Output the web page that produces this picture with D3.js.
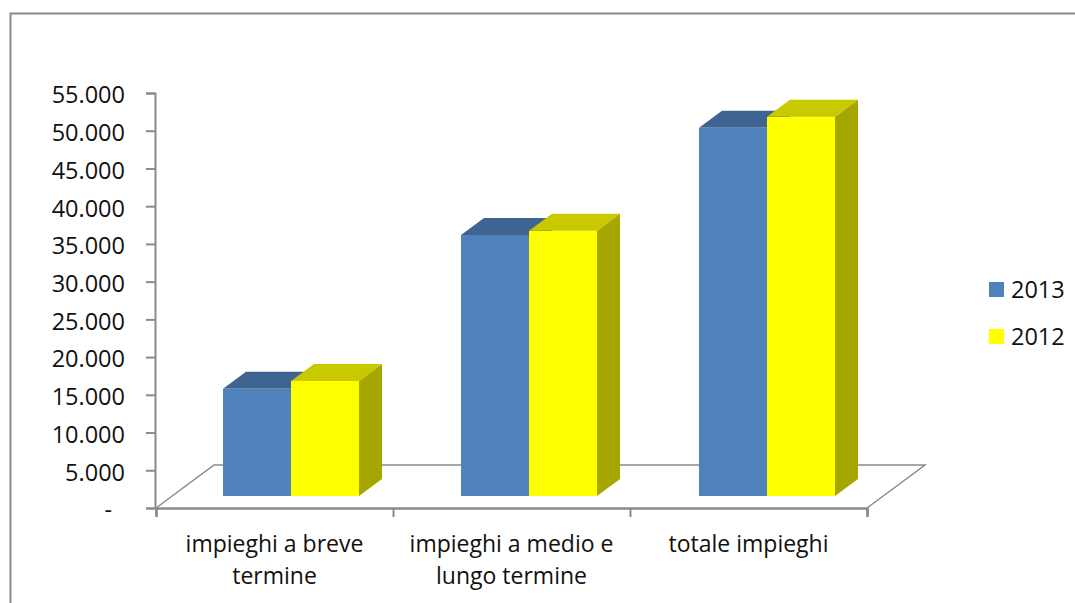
<!DOCTYPE html>
<html>
<head>
<meta charset="utf-8">
<script src="https://cdn.jsdelivr.net/npm/d3@7"></script>
<style>
  html, body { margin: 0; padding: 0; background: #fff; overflow: hidden; }
  text { font-family: "Open Sans", sans-serif; fill: #111; }
</style>
</head>
<body>
<svg id="chart" width="1075" height="603"></svg>
<script>
var categories = ["impieghi a breve termine", "impieghi a medio e lungo termine", "totale impieghi"];
var seriesNames = ["2013", "2012"];
var values2013 = [14200, 34600, 48800];
var values2012 = [15250, 35150, 50250];
var yTicks = [0, 5000, 10000, 15000, 20000, 25000, 30000, 35000, 40000, 45000, 50000, 55000];

var svg = d3.select("#chart");
var grey = "#8a8a8a";
var fontSize = 23.5;
var catFontSize = 23;

var plotLeft = 156, plotRight = 867, plotTop = 93, plotBottom = 508;
var floorDx = 58, floorDy = 43;      // depth of the floor
var barDx = 23, barDy = 17;          // depth of a bar
var barShiftX = 17, barShiftY = 12;  // bars stand inside the floor

var x = d3.scaleBand().domain(categories).range([plotLeft, plotRight]);
var xBars = d3.scaleBand().domain(categories).range([plotLeft - 1, plotRight + 2]);
var xEdges = d3.scaleLinear().domain([0, categories.length]).range([plotLeft, plotRight]);
var y = d3.scaleLinear().domain([0, 55000]).range([plotBottom, plotTop]);
var inner = d3.scaleBand().domain(seriesNames).range([0, 136]);

var colors = {
  "2013": {front: "#4f81bd", top: "#3f6491", side: "#3a5f8c"},
  "2012": {front: "#ffff00", top: "#c9c900", side: "#a6a600"}
};

var itLocale = d3.formatLocale({decimal: ",", thousands: ".", grouping: [3], currency: ["€", ""]});
var fmt = itLocale.format(",d");

// outer frame, only top and left are in the picture
svg.append("path")
  .attr("d", "M10.5,603V13.5H1075")
  .attr("fill", "none")
  .attr("stroke", grey)
  .attr("stroke-width", 2);

// floor
var floor = d3.path();
floor.moveTo(plotLeft, plotBottom);
floor.lineTo(plotLeft + floorDx, plotBottom - floorDy);
floor.lineTo(plotRight + floorDx, plotBottom - floorDy);
floor.lineTo(plotRight, plotBottom);
svg.append("path")
  .attr("d", floor.toString())
  .attr("fill", "none")
  .attr("stroke", grey)
  .attr("stroke-width", 1.5);

// y axis
var yAxis = svg.append("g")
  .attr("transform", "translate(" + (plotLeft - 1) + ",0)")
  .call(d3.axisLeft(y).tickValues(yTicks).tickSize(9).tickPadding(21)
    .tickFormat(function(d) { return d === 0 ? "-" : fmt(d); }));
yAxis.select(".domain").attr("stroke", grey).attr("stroke-width", 2);
yAxis.selectAll(".tick line").attr("stroke", grey).attr("stroke-width", 2);
yAxis.selectAll(".tick text")
  .attr("font-family", null)
  .attr("font-size", fontSize)
  .attr("dy", "0.42em")
  .style("fill", "#111");
yAxis.selectAll(".tick text").filter(function(d) { return d === 0; }).attr("x", -43);

// x axis, ticks sit on the category edges
var xAxis = svg.append("g")
  .attr("transform", "translate(0," + plotBottom + ")")
  .call(d3.axisBottom(xEdges).ticks(categories.length).tickSize(9).tickFormat(""));
xAxis.select(".domain").attr("stroke", grey).attr("stroke-width", 2.5);
xAxis.selectAll(".tick line").attr("stroke", grey).attr("stroke-width", 2);

var xLabels = svg.append("g")
  .attr("transform", "translate(0," + plotBottom + ")")
  .call(d3.axisBottom(x).tickSize(0).tickPadding(0));
xLabels.select(".domain").remove();
xLabels.selectAll(".tick text")
  .attr("font-family", null)
  .attr("font-size", catFontSize)
  .attr("dy", 0)
  .style("fill", "#111")
  .call(wrap, 230);

function wrap(sel, width) {
  sel.each(function() {
    var text = d3.select(this);
    var words = text.text().split(" ");
    var lines = [[]];
    text.text(null);
    var probe = text.append("tspan");
    words.forEach(function(w) {
      var cur = lines[lines.length - 1];
      probe.text(cur.concat(w).join(" "));
      if (probe.node().getComputedTextLength() > width && cur.length) lines.push([w]);
      else cur.push(w);
    });
    probe.remove();
    lines.forEach(function(l, i) {
      text.append("tspan")
        .attr("x", 0)
        .attr("y", 44 + i * 31.5)
        .text(l.join(" "));
    });
  });
}

// bars
var rows = [];
categories.forEach(function(c, i) {
  rows.push({cat: c, name: "2013", value: values2013[i]});
  rows.push({cat: c, name: "2012", value: values2012[i]});
});

var bars = svg.append("g").selectAll("g").data(rows).enter().append("g")
  .attr("shape-rendering", "crispEdges");

function x0(d) { return xBars(d.cat) + xBars.bandwidth() / 2 - 68 + barShiftX + inner(d.name); }
function x1(d) { return x0(d) + inner.bandwidth(); }
function y0() { return y(0) - barShiftY; }
function y1(d) { return y(d.value) - barShiftY; }

bars.append("polygon")
  .attr("points", function(d) {
    return [[x1(d), y1(d)], [x1(d) + barDx, y1(d) - barDy], [x1(d) + barDx, y0() - barDy], [x1(d), y0()]].join(" ");
  })
  .attr("fill", function(d) { return colors[d.name].side; })
  .attr("shape-rendering", "auto");

bars.append("polygon")
  .attr("points", function(d) {
    return [[x0(d), y1(d)], [x0(d) + barDx, y1(d) - barDy], [x1(d) + barDx, y1(d) - barDy], [x1(d), y1(d)]].join(" ");
  })
  .attr("fill", function(d) { return colors[d.name].top; })
  .attr("shape-rendering", "auto");

bars.append("rect")
  .attr("x", x0)
  .attr("y", y1)
  .attr("width", inner.bandwidth())
  .attr("height", function(d) { return y0() - y1(d); })
  .attr("fill", function(d) { return colors[d.name].front; });

// legend
var legend = svg.append("g").selectAll("g").data(seriesNames).enter().append("g")
  .attr("transform", function(d, i) { return "translate(989," + (282 + i * 47) + ")"; });
legend.append("rect")
  .attr("width", 15)
  .attr("height", 15)
  .attr("fill", function(d) { return colors[d].front; });
legend.append("text")
  .attr("x", 22)
  .attr("y", 7.5)
  .attr("dy", "0.38em")
  .attr("font-size", fontSize)
  .text(function(d) { return d; });
</script>
</body>
</html>
